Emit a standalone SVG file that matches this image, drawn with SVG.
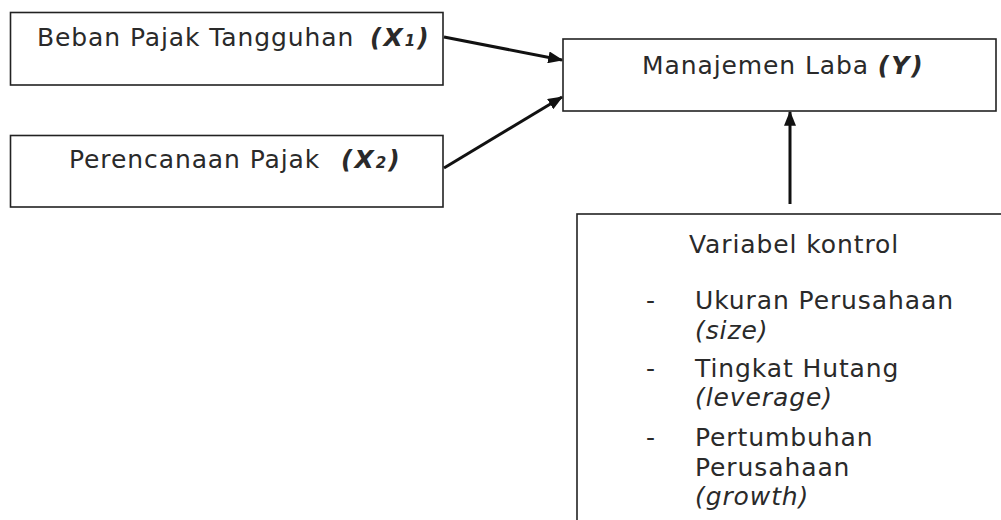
<svg xmlns="http://www.w3.org/2000/svg" width="1001" height="520" viewBox="0 0 1001 520">
  <defs>
    <marker id="ah" markerWidth="5" markerHeight="4" refX="4.6" refY="2" orient="auto" markerUnits="strokeWidth">
      <path d="M0,0 L5,2 L0,4 Z" fill="#111"/>
    </marker>
    <style>
      .box { fill: #fff; stroke: #222; stroke-width: 1.6; }
      .t { font-family: "DejaVu Sans", Verdana, sans-serif; font-size: 25px; letter-spacing: 0.9px; fill: #2a2a2a; }
      .bi { font-weight: bold; font-style: italic; letter-spacing: 2px; }
      .it { font-style: italic; }
      .edge { stroke: #111; stroke-width: 3; fill: none; marker-end: url(#ah); }
    </style>
  </defs>
  <rect width="1001" height="520" fill="#fff"/>

  <g id="node-x1">
    <rect class="box" x="10.5" y="12.5" width="432.5" height="72.5"/>
    <text class="t" x="37" y="46">Beban Pajak Tangguhan</text>
    <text class="t bi" x="370" y="46">(X<tspan font-size="15">1</tspan>)</text>
  </g>

  <g id="node-x2">
    <rect class="box" x="10.5" y="135.5" width="432.5" height="71.5"/>
    <text class="t" x="69" y="168">Perencanaan Pajak</text>
    <text class="t bi" x="341" y="168">(X<tspan font-size="15">2</tspan>)</text>
  </g>

  <g id="node-y">
    <rect class="box" x="563" y="39" width="433" height="72"/>
    <text class="t" x="642" y="74">Manajemen Laba <tspan class="bi">(Y)</tspan></text>
  </g>

  <g id="node-control">
    <rect class="box" x="577" y="214" width="440" height="330"/>
    <text class="t" x="689" y="253">Variabel kontrol</text>
    <text class="t" x="646" y="309">-</text>
    <text class="t" x="695" y="309">Ukuran Perusahaan</text>
    <text class="t it" x="695" y="339">(size)</text>
    <text class="t" x="646" y="377">-</text>
    <text class="t" x="695" y="377">Tingkat Hutang</text>
    <text class="t it" x="695" y="406">(leverage)</text>
    <text class="t" x="646" y="446">-</text>
    <text class="t" x="695" y="446">Pertumbuhan</text>
    <text class="t" x="695" y="476">Perusahaan</text>
    <text class="t it" x="695" y="505">(growth)</text>
  </g>

  <g id="connectors">
    <line class="edge" x1="444" y1="37" x2="562" y2="60"/>
    <line class="edge" x1="444" y1="168" x2="562" y2="97"/>
    <line class="edge" x1="790" y1="204" x2="790" y2="112"/>
  </g>
</svg>
